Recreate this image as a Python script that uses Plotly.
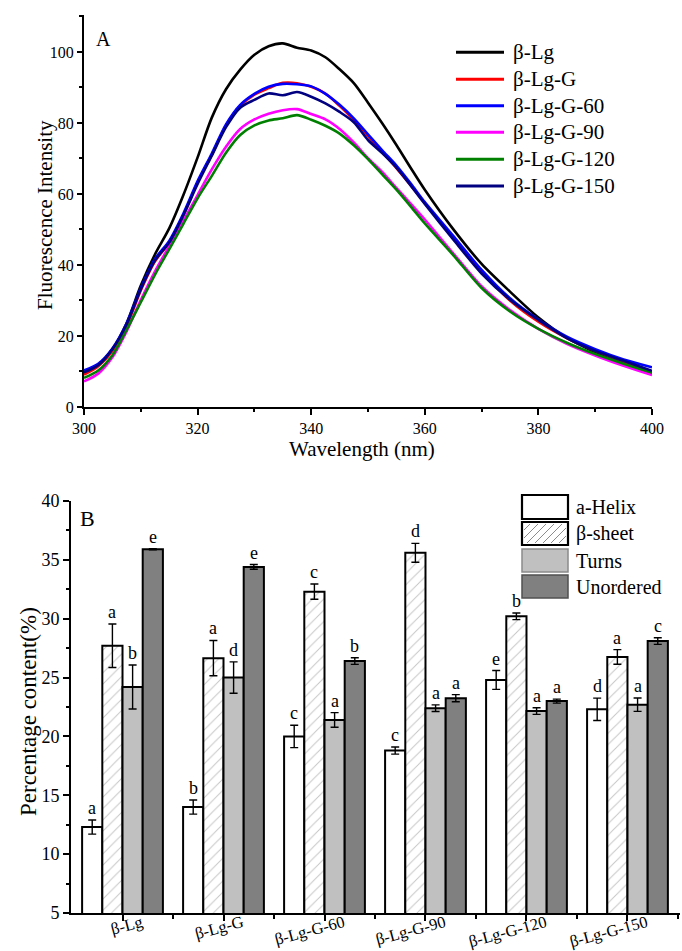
import plotly.graph_objects as go

W, H = 682, 951
FONT = "Liberation Serif, Times New Roman, serif"

# ---------------- Panel A data ----------------
wavelength = [300, 302.5, 305, 307.5, 310, 312.5, 315, 317.5, 320, 322.5, 325, 327.5, 330,
              332.5, 335, 337.5, 340, 342.5, 345, 347.5, 350, 352.5, 355, 357.5, 360,
              365, 370, 375, 380, 385, 390, 395, 400]
blg =      [9.6, 11.6, 16.1, 23.6, 34.2, 43.0, 50.3, 59.7, 70.3, 81.5, 89.5, 95.0, 99.2,
            101.6, 102.4, 101.2, 100.4, 98.5, 95.1, 91.2, 85.7, 79.9, 73.8, 67.4, 61.2,
            50.1, 40.3, 32.5, 25.2, 19.5, 15.4, 12.1, 9.2]
blg_g =    [9.1, 11.5, 15.8, 22.8, 32.8, 41.0, 46.3, 54.0, 63.3, 71.0, 79.3, 84.8, 88.0,
            89.8, 91.3, 91.2, 90.2, 88.3, 84.8, 80.8, 76.3, 71.8, 67.3, 62.5, 57.4,
            47.8, 38.3, 30.0, 24.0, 19.4, 15.8, 12.8, 9.6]
blg_g60 =  [10.3, 12.2, 16.5, 23.6, 33.5, 41.7, 46.8, 54.5, 63.6, 71.4, 79.6, 85.1, 88.2,
            90.2, 91.0, 90.9, 90.3, 88.2, 85.1, 81.3, 76.8, 72.3, 68.0, 63.0, 57.7,
            48.2, 38.6, 30.6, 24.6, 19.8, 16.3, 13.4, 11.2]
blg_g90 =  [7.2, 9.4, 14.0, 21.3, 30.1, 38.2, 45.3, 52.5, 59.7, 66.9, 73.3, 78.3, 81.0,
            82.6, 83.6, 83.9, 82.5, 81.0, 78.3, 74.5, 70.1, 66.2, 61.7, 57.3, 52.8,
            43.3, 34.0, 27.3, 22.0, 17.8, 14.5, 11.6, 9.0]
blg_g120 = [8.2, 10.3, 14.6, 21.8, 29.5, 37.3, 44.4, 51.6, 58.8, 65.1, 71.6, 76.6, 79.3,
            80.7, 81.3, 82.2, 80.9, 79.2, 77.0, 73.7, 69.8, 65.5, 61.2, 56.5, 51.7,
            42.8, 33.5, 26.9, 22.0, 18.1, 14.9, 12.2, 9.7]
blg_g150 = [9.8, 11.8, 16.3, 23.3, 33.2, 41.3, 46.3, 54.0, 62.8, 70.8, 78.8, 84.3, 86.5,
            88.3, 87.8, 88.7, 87.4, 85.5, 83.1, 80.2, 75.2, 71.5, 67.4, 62.4, 57.2,
            47.2, 37.6, 30.2, 24.5, 19.4, 15.8, 13.0, 10.2]

spectra_names = ["β-Lg", "β-Lg-G", "β-Lg-G-60", "β-Lg-G-90", "β-Lg-G-120", "β-Lg-G-150"]
spectra = [blg, blg_g, blg_g60, blg_g90, blg_g120, blg_g150]
spectra_colors = ["#000000", "#ff0000", "#0000ff", "#ff00ff", "#008000", "#000080"]

# ---------------- Panel B data ----------------
samples = ["β-Lg", "β-Lg-G", "β-Lg-G-60", "β-Lg-G-90", "β-Lg-G-120", "β-Lg-G-150"]
helix =          [12.3, 14.0, 20.0, 18.8, 24.8, 22.3]
helix_err =      [0.6, 0.6, 0.95, 0.3, 0.8, 0.95]
sheet =          [27.7, 26.65, 32.3, 35.6, 30.2, 26.75]
sheet_err =      [1.85, 1.5, 0.65, 0.8, 0.28, 0.62]
turns =          [24.2, 25.0, 21.4, 22.4, 22.15, 22.7]
turns_err =      [1.87, 1.33, 0.62, 0.28, 0.28, 0.57]
unordered =      [35.9, 34.4, 26.4, 23.25, 23.0, 28.1]
unordered_err =  [0.05, 0.2, 0.28, 0.3, 0.17, 0.28]
helix_letters =     ["a", "b", "c", "c", "e", "d"]
sheet_letters =     ["a", "a", "c", "d", "b", "a"]
turns_letters =     ["b", "d", "a", "a", "a", "a"]
unordered_letters = ["e", "e", "b", "a", "a", "c"]
structure_names = ["a-Helix", "β-sheet", "Turns", "Unordered"]


def px(x):
    return x / W


def py(y):
    return 1 - y / H


fig = go.Figure()

for name, ys, col in zip(spectra_names, spectra, spectra_colors):
    fig.add_trace(go.Scatter(x=wavelength, y=ys, name=name, mode="lines",
                             line=dict(color=col, width=2.6, shape="spline", smoothing=0.8),
                             xaxis="x", yaxis="y", showlegend=False))

xs = list(range(len(samples)))
bar_specs = [
    (helix, helix_err, dict(color="white", line=dict(color="black", width=2))),
    (sheet, sheet_err, dict(color="white", line=dict(color="black", width=2),
                            pattern=dict(shape="/", fgcolor="#8c8c8c", bgcolor="white",
                                         size=8, solidity=0.12))),
    (turns, turns_err, dict(color="#c0c0c0", line=dict(color="black", width=2))),
    (unordered, unordered_err, dict(color="#808080", line=dict(color="black", width=2))),
]
for name, (vals, errs, marker) in zip(structure_names, bar_specs):
    fig.add_trace(go.Bar(x=xs, y=vals, name=name, marker=marker,
                         error_y=dict(type="data", array=errs, color="black",
                                      thickness=1.4, width=4),
                         xaxis="x2", yaxis="y2", showlegend=False))

annotations = []
shapes = []
offsets = [-0.3, -0.1, 0.1, 0.3]
for off, vals, errs, letters in zip(offsets, [helix, sheet, turns, unordered],
                                    [helix_err, sheet_err, turns_err, unordered_err],
                                    [helix_letters, sheet_letters, turns_letters, unordered_letters]):
    for i, (v, e, t) in enumerate(zip(vals, errs, letters)):
        annotations.append(dict(x=i + off, y=v + e, xref="x2", yref="y2", text=t,
                                showarrow=False, yanchor="bottom", yshift=0,
                                font=dict(family=FONT, size=18, color="black")))


def paper_text(x, y, text, size, angle=0, xanchor="center"):
    annotations.append(dict(x=px(x), y=py(y), xref="paper", yref="paper", text=text,
                            showarrow=False, xanchor=xanchor, yanchor="middle",
                            textangle=angle,
                            font=dict(family=FONT, size=size, color="black")))


paper_text(94, 39, "A", 20, xanchor="left")
paper_text(78, 518, "B", 22, xanchor="left")
# axis titles
paper_text(45, 215, "Fluorescence Intensity", 21, angle=-90)
paper_text(362, 449, "Wavelength (nm)", 21)
paper_text(28, 712, "Percentage content(%)", 23, angle=-90)

# custom legend for panel A
legA_rows = [52.3, 79.3, 105.7, 132.3, 159.3, 186.0]
for yy, name, col in zip(legA_rows, spectra_names, spectra_colors):
    shapes.append(dict(type="line", xref="paper", yref="paper",
                       x0=px(456), x1=px(504), y0=py(yy), y1=py(yy),
                       line=dict(color=col, width=3)))
    paper_text(511, yy, name, 21, xanchor="left")

# custom legend for panel B
rows = [(495, 519), (522, 545), (549, 572), (575, 598)]
bx0, bx1 = 522, 568
fills = ["white", "white", "#c0c0c0", "#808080"]
outlines = [("black", 2.2), ("black", 2.2), ("#8a8a8a", 1.5), ("#505050", 1.5)]
for (y0, y1), f, (lc, lw), name in zip(rows, fills, outlines, structure_names):
    shapes.append(dict(type="rect", xref="paper", yref="paper",
                       x0=px(bx0), x1=px(bx1), y0=py(y1), y1=py(y0),
                       fillcolor=f, line=dict(color=lc, width=lw), layer="above"))
    paper_text(574, (y0 + y1) / 2, name, 20, xanchor="left")
# hatch inside the β-sheet swatch
hy0, hy1 = rows[1]
for c in range(bx0 + hy0 - 30, bx1 + hy1 + 30, 8):
    pts = []
    for x in (bx0 + 2, bx1 - 2):
        y = c - x
        if hy0 + 2 <= y <= hy1 - 2:
            pts.append((x, y))
    for y in (hy0 + 2, hy1 - 2):
        x = c - y
        if bx0 + 2 <= x <= bx1 - 2:
            pts.append((x, y))
    pts = sorted(set(pts))
    if len(pts) >= 2:
        (xa, ya), (xb, yb) = pts[0], pts[-1]
        shapes.append(dict(type="line", xref="paper", yref="paper",
                           x0=px(xa), y0=py(ya), x1=px(xb), y1=py(yb),
                           line=dict(color="#8c8c8c", width=1), layer="above"))

axis_font = dict(family=FONT, size=16, color="black")

fig.update_layout(
    width=W, height=H,
    margin=dict(l=0, r=0, t=0, b=0, pad=0, autoexpand=False),
    paper_bgcolor="white", plot_bgcolor="white",
    font=dict(family=FONT, color="black"),
    showlegend=False,
    barmode="group", bargap=0.2, bargroupgap=0,
    annotations=annotations, shapes=shapes,
    xaxis=dict(domain=[px(84), px(652)], range=[300, 400], anchor="y", automargin=False,
               tickmode="linear", tick0=300, dtick=20, ticks="outside", ticklen=6,
               tickwidth=1.5, tickcolor="black", showline=True, linecolor="black",
               linewidth=2, showgrid=False, zeroline=False, tickfont=axis_font,
               minor=dict(dtick=10, ticks="outside", ticklen=3, tickwidth=1.5,
                          tickcolor="black", showgrid=False)),
    yaxis=dict(domain=[py(407), py(15)], range=[0, 110.4], anchor="x", automargin=False,
               tickmode="linear", tick0=0, dtick=20, ticks="outside", ticklen=5,
               tickwidth=1.5, tickcolor="black", showline=True, linecolor="black",
               linewidth=2, showgrid=False, zeroline=False, tickfont=axis_font,
               minor=dict(dtick=10, ticks="outside", ticklen=3, tickwidth=1.5,
                          tickcolor="black", showgrid=False)),
    xaxis2=dict(domain=[px(71), px(680)], range=[-0.51, 5.52], anchor="y2", automargin=False,
                tickmode="array", tickvals=xs, ticktext=samples, tickangle=-15,
                ticklabelshift=19, ticklabelstandoff=-14,
                ticks="outside", ticklen=6, tickwidth=1.5, tickcolor="black",
                showline=True, linecolor="black", linewidth=2, showgrid=False,
                zeroline=False, tickfont=dict(family=FONT, size=16.5, color="black"),
                minor=dict(tickmode="array", tickvals=[i + 0.5 for i in xs],
                           ticks="outside", ticklen=4, tickwidth=1.5,
                           tickcolor="black", showgrid=False)),
    yaxis2=dict(domain=[py(913), py(501)], range=[5, 40], anchor="x2", automargin=False,
                tickmode="linear", tick0=5, dtick=5, ticks="outside", ticklen=6,
                tickwidth=1.5, tickcolor="black", showline=True, linecolor="black",
                linewidth=2, showgrid=False, zeroline=False,
                tickfont=dict(family=FONT, size=18, color="black"),
                minor=dict(dtick=2.5, ticks="outside", ticklen=3, tickwidth=1.5,
                           tickcolor="black", showgrid=False)),
)

fig.write_html(
    "out.html",
    config=dict(displayModeBar=False),
    post_script="document.body.style.margin='0px';"
                "document.body.style.padding='0px';"
                "document.body.style.overflow='hidden';",
)
